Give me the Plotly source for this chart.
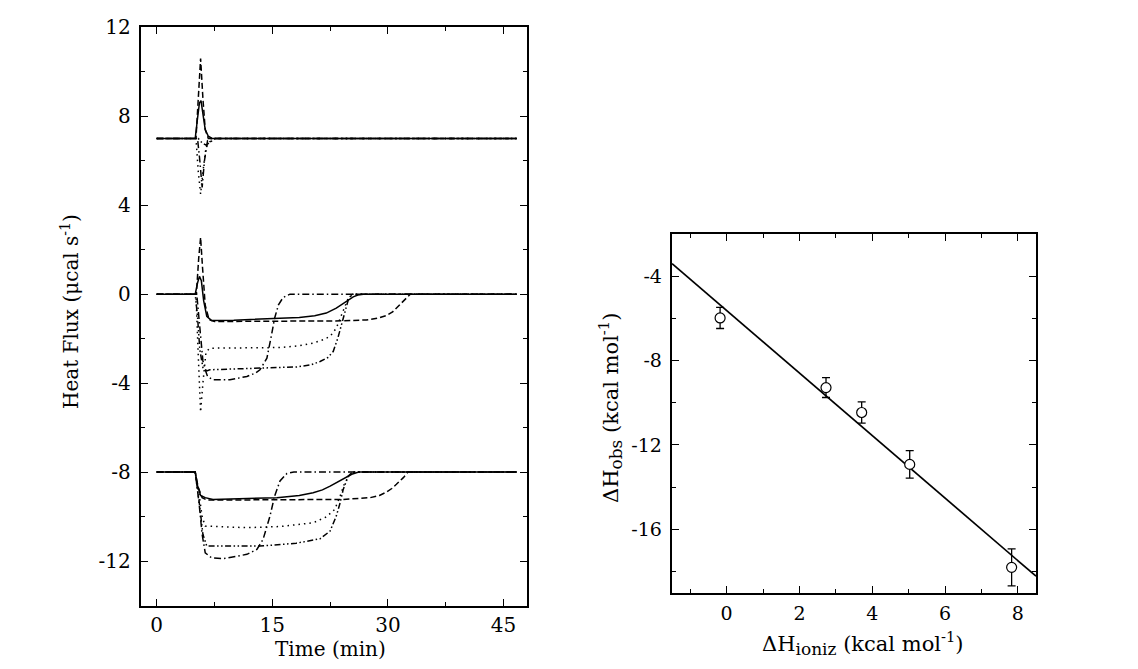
import plotly.graph_objects as go

# ---------------- Left panel: ITC heat-flux traces ----------------
# top group (baseline 7)
t_top_solid = [0, 5.0, 5.3, 5.55, 5.75, 6.0, 6.3, 6.7, 7.2, 46.7]
v_top_solid = [7, 7, 7.9, 8.6, 8.7, 8.1, 7.4, 7.1, 7.0, 7.0]
t_top_dash = [0, 5.1, 5.4, 5.7, 6.0, 6.3, 6.7, 46.7]
v_top_dash = [7, 7, 8.8, 10.6, 8.8, 7.4, 7.0, 7.0]
t_top_dot = [0, 5.1, 5.4, 5.7, 6.0, 6.4, 6.9, 7.5, 46.7]
v_top_dot = [7, 7, 5.5, 4.5, 5.5, 6.6, 6.85, 7, 7]
t_top_dashdot = [0, 5.3, 5.6, 5.9, 6.2, 6.6, 7.1, 46.7]
v_top_dashdot = [7, 7, 6.0, 4.8, 6.0, 6.9, 7, 7]
t_top_dashdotdot = [0, 5.4, 5.9, 6.4, 7.0, 7.6, 46.7]
v_top_dashdotdot = [7, 7, 6.8, 6.7, 6.85, 7, 7]

# middle group (baseline 0)
t_mid_solid = [0, 5.0, 5.3, 5.55, 5.8, 6.1, 6.5, 7.1, 10, 16, 18.5, 20.5, 22.0, 23.3, 24.2, 24.9, 25.5, 26.1, 26.8, 46.7]
v_mid_solid = [0, 0, 0.5, 0.8, 0.6, -0.3, -1.0, -1.18, -1.17, -1.1, -1.05, -0.97, -0.85, -0.63, -0.43, -0.26, -0.12, -0.04, 0, 0]
t_mid_dash = [0, 5.15, 5.45, 5.7, 5.95, 6.3, 6.8, 7.5, 24.2, 27.2, 28.7, 29.8, 30.6, 31.1, 31.6, 32.0, 32.5, 32.9, 46.7]
v_mid_dash = [0, 0, 1.6, 2.55, 1.2, -0.5, -1.15, -1.23, -1.2, -1.16, -1.08, -0.96, -0.8, -0.63, -0.45, -0.3, -0.12, 0, 0]
t_mid_dot = [0, 5.1, 5.4, 5.7, 6.0, 6.4, 6.9, 16, 18.5, 20.3, 21.6, 22.5, 23.3, 24.2, 24.85, 25.5, 46.7]
v_mid_dot = [0, 0, -2.8, -5.3, -4.0, -2.6, -2.43, -2.4, -2.32, -2.2, -2.05, -1.9, -1.53, -0.78, -0.18, 0, 0]
t_mid_dashdot = [0, 5.2, 5.6, 6.0, 6.4, 6.6, 7.3, 9.5, 11.7, 12.8, 13.4, 14.3, 14.9, 15.3, 15.8, 16.4, 17.3, 46.7]
v_mid_dashdot = [0, 0, -1.5, -3.0, -3.5, -3.7, -3.85, -3.85, -3.7, -3.55, -3.4, -2.88, -1.83, -1.08, -0.48, -0.15, 0, 0]
t_mid_dashdotdot = [0, 5.0, 5.3, 5.6, 6.0, 6.5, 6.9, 13.8, 18.2, 20.0, 21.2, 22.2, 22.9, 23.5, 24.2, 24.85, 25.3, 46.7]
v_mid_dashdotdot = [0, 0, -1.0, -2.5, -3.3, -3.45, -3.4, -3.33, -3.27, -3.18, -3.03, -2.85, -2.58, -1.98, -1.08, -0.26, 0, 0]

# bottom group (baseline -8)
t_bot_solid = [0, 5.0, 5.3, 5.7, 6.3, 7.3, 15.6, 18.5, 20.3, 21.5, 22.5, 23.4, 24.2, 24.8, 25.3, 26.2, 46.7]
v_bot_solid = [-8, -8, -8.6, -9.05, -9.15, -9.23, -9.15, -9.05, -8.93, -8.8, -8.63, -8.47, -8.33, -8.2, -8.1, -8, -8]
t_bot_dash = [0, 5.0, 5.4, 5.9, 6.5, 24.2, 27.7, 28.9, 29.8, 30.5, 31.1, 31.6, 32.0, 32.6, 46.7]
v_bot_dash = [-8, -8, -8.7, -9.15, -9.26, -9.23, -9.15, -9.05, -8.9, -8.74, -8.55, -8.4, -8.25, -8, -8]
t_bot_dot = [0, 5.0, 5.5, 5.9, 6.3, 11.7, 16, 20.3, 22.0, 23.1, 23.8, 24.4, 25.1, 25.6, 46.7]
v_bot_dot = [-8, -8, -9.0, -10.0, -10.43, -10.5, -10.45, -10.28, -10.02, -9.68, -9.08, -8.48, -8.1, -8, -8]
t_bot_dashdot = [0, 5.0, 5.5, 5.9, 6.3, 7.1, 8.6, 11.7, 13.0, 13.8, 14.7, 15.3, 16, 16.9, 17.8, 46.7]
v_bot_dashdot = [-8, -8, -9.4, -10.8, -11.63, -11.85, -11.9, -11.7, -11.48, -11.03, -9.98, -9.08, -8.4, -8.06, -8, -8]
t_bot_dashdotdot = [0, 5.0, 5.5, 6.0, 6.5, 13.4, 18.1, 21.2, 22.5, 23.3, 23.8, 24.2, 24.85, 25.4, 46.7]
v_bot_dashdotdot = [-8, -8, -9.3, -10.8, -11.33, -11.33, -11.2, -11.0, -10.65, -9.98, -9.38, -8.78, -8.18, -8, -8]

left_xticks = [0, 15, 30, 45]
left_xticktext = ["0", "15", "30", "45"]
left_xminor = [7.5, 22.5, 37.5]
left_yticks = [12, 8, 4, 0, -4, -8, -12]
left_yticktext = ["12", "8", "4", "0", "-4", "-8", "-12"]
left_yminor = [10, 6, 2, -2, -6, -10, -14]

# ---------------- Right panel: ΔHobs vs ΔHioniz ----------------
h_ioniz = [-0.18, 2.73, 3.71, 5.03, 7.83]
h_obs = [-5.98, -9.28, -10.46, -12.92, -17.8]
h_obs_err = [0.5, 0.47, 0.5, 0.65, 0.88]
fit_x = [-1.5, 8.5]
fit_y = [-3.4, -18.22]

right_xticks = [0, 2, 4, 6, 8]
right_xticktext = ["0", "2", "4", "6", "8"]
right_xminor = [-1, 1, 3, 5, 7]
right_yticks = [-4, -8, -12, -16]
right_yticktext = ["-4", "-8", "-12", "-16"]
right_yminor = [-2, -6, -10, -14, -18]

FONT = "DejaVu Serif"
LW = 1.5
W, H, OFF = 1122, 653, 8   # page body has an 8px margin


def px(x):
    return (x - OFF) / W


def py(y):
    return 1 - (y - OFF) / H


styles = {
    "solid": "solid",
    "dash": "6px,3px",
    "dot": "1.5px,4px",
    "dashdot": "7px,3px,1.5px,3px",
    "dashdotdot": "6px,2.5px,1.5px,2.5px,1.5px,2.5px",
}

fig = go.Figure()

curves = [
    (t_top_solid, v_top_solid, "solid"), (t_top_dash, v_top_dash, "dash"),
    (t_top_dot, v_top_dot, "dot"), (t_top_dashdot, v_top_dashdot, "dashdot"),
    (t_top_dashdotdot, v_top_dashdotdot, "dashdotdot"),
    (t_mid_solid, v_mid_solid, "solid"), (t_mid_dash, v_mid_dash, "dash"),
    (t_mid_dot, v_mid_dot, "dot"), (t_mid_dashdot, v_mid_dashdot, "dashdot"),
    (t_mid_dashdotdot, v_mid_dashdotdot, "dashdotdot"),
    (t_bot_solid, v_bot_solid, "solid"), (t_bot_dash, v_bot_dash, "dash"),
    (t_bot_dot, v_bot_dot, "dot"), (t_bot_dashdot, v_bot_dashdot, "dashdot"),
    (t_bot_dashdotdot, v_bot_dashdotdot, "dashdotdot"),
]
for t, v, st in curves:
    fig.add_trace(go.Scatter(x=t, y=v, mode="lines", xaxis="x", yaxis="y",
                             line=dict(color="black", width=LW, dash=styles[st]),
                             showlegend=False, hoverinfo="skip"))

fig.add_trace(go.Scatter(x=fit_x, y=fit_y, mode="lines", xaxis="x2", yaxis="y2",
                         line=dict(color="black", width=1.7), showlegend=False))
fig.add_trace(go.Scatter(x=h_ioniz, y=h_obs, mode="markers", xaxis="x2", yaxis="y2",
                         marker=dict(symbol="circle", size=10, color="white",
                                     line=dict(color="black", width=1.2)),
                         error_y=dict(type="data", array=h_obs_err, color="black",
                                      thickness=1.3, width=4),
                         showlegend=False))


def axis(domain, rng, ticks, text, minor, anchor, size, standoff=4):
    return dict(domain=domain, range=rng, tickmode="array", tickvals=ticks, ticktext=text,
                ticks="inside", ticklen=7, tickwidth=1.3, tickcolor="black",
                minor=dict(tickmode="array", tickvals=minor, ticks="inside", ticklen=4,
                           tickwidth=1.3, tickcolor="black", showgrid=False),
                showline=True, linecolor="black", linewidth=2, mirror="ticks",
                showgrid=False, zeroline=False, anchor=anchor, automargin=False,
                tickfont=dict(family=FONT, size=size, color="black"),
                ticklabelstandoff=standoff)


fig.update_layout(
    width=W, height=H, autosize=False,
    margin=dict(l=0, r=0, t=0, b=0, autoexpand=False),
    paper_bgcolor="white", plot_bgcolor="white",
    xaxis=axis([px(140.7), px(526.7)], [-2.07, 48.0], left_xticks, left_xticktext,
               left_xminor, "y", 20, 0),
    yaxis=axis([py(605.5), py(27.3)], [-14, 12], left_yticks, left_yticktext,
               left_yminor, "x", 20),
    xaxis2=axis([px(671.7), px(1036)], [-1.51, 8.5], right_xticks, right_xticktext,
                right_xminor, "y2", 19, 2),
    yaxis2=axis([py(593.3), py(234)], [-19.03, -2.0], right_yticks, right_yticktext,
                right_yminor, "x2", 19),
)

ann_font = dict(family=FONT, size=21, color="black")
fig.add_annotation(text="Time (min)", x=px(330), y=py(649), xref="paper", yref="paper",
                   showarrow=False, font=dict(family=FONT, size=20, color="black"),
                   xanchor="center", yanchor="middle")
fig.add_annotation(text="Heat Flux (μcal s<sup>-1</sup>)", x=px(70), y=py(312),
                   xref="paper", yref="paper", showarrow=False,
                   font=dict(family=FONT, size=20, color="black"),
                   textangle=-90, xanchor="center", yanchor="middle")
fig.add_annotation(text="ΔH<sub><span style='font-size:17px'>obs</span></sub> (kcal mol<sup>-1</sup>)",
                   x=px(611), y=py(408),
                   xref="paper", yref="paper", showarrow=False, font=ann_font,
                   textangle=-90, xanchor="center", yanchor="middle")
fig.add_annotation(text="ΔH<sub><span style='font-size:17px'>ioniz</span></sub> (kcal mol<sup>-1</sup>)",
                   x=px(863), y=py(643),
                   xref="paper", yref="paper", showarrow=False, font=ann_font,
                   xanchor="center", yanchor="middle")

fig.write_html("out.html")
